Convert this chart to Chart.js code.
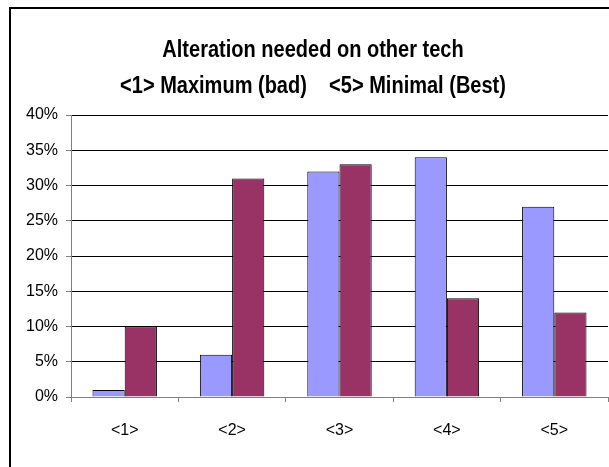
<!DOCTYPE html>
<html>
<head>
<meta charset="utf-8">
<script src="https://cdn.jsdelivr.net/npm/chart.js@4/dist/chart.umd.min.js"></script>
<style>
html,body{margin:0;padding:0;background:#fff;overflow:hidden;}
#wrap{position:absolute;left:0;top:0;width:609px;height:467px;}
</style>
</head>
<body>
<div id="wrap"><canvas id="c" width="609" height="467"></canvas></div>
<script>
const categories = ['<1>', '<2>', '<3>', '<4>', '<5>'];
const seriesA = [1, 6, 32, 34, 27];
const seriesB = [10, 31, 33, 14, 12];
const titleLines = ['Alteration needed on other tech', '<1> Maximum (bad)    <5> Minimal (Best)'];

const frame = {
  id: 'frame',
  beforeDraw(chart) {
    const ctx = chart.ctx;
    ctx.save();
    ctx.fillStyle = '#fff';
    ctx.fillRect(0, 0, chart.width, chart.height);
    ctx.strokeStyle = '#000';
    ctx.lineWidth = 2;
    ctx.beginPath();
    ctx.moveTo(10, chart.height + 5);
    ctx.lineTo(10, 8);
    ctx.lineTo(chart.width + 5, 8);
    ctx.stroke();
    ctx.restore();
  }
};

// Narrow bold title (condensed horizontally to mimic Arial Narrow)
const narrowTitle = {
  id: 'narrowTitle',
  afterDraw(chart) {
    const ctx = chart.ctx;
    const cx = 313;
    const baselines = [57, 93];
    ctx.save();
    ctx.fillStyle = '#000';
    ctx.font = 'bold 23px "Liberation Sans", Arial, sans-serif';
    ctx.textAlign = 'center';
    ctx.textBaseline = 'alphabetic';
    titleLines.forEach((t, i) => {
      ctx.save();
      ctx.translate(cx, baselines[i]);
      ctx.scale(0.87, 1);
      ctx.fillText(t, 0, 0);
      ctx.restore();
    });
    ctx.restore();
  }
};

new Chart(document.getElementById('c'), {
  type: 'bar',
  data: {
    labels: categories,
    datasets: [
      { data: seriesA, backgroundColor: '#9999FF', borderColor: '#000', borderWidth: 1 },
      { data: seriesB, backgroundColor: '#993366', borderColor: '#000', borderWidth: 1 }
    ]
  },
  plugins: [frame, narrowTitle],
  options: {
    responsive: false,
    animation: false,
    devicePixelRatio: 1,
    layout: { padding: { left: 0, right: 1, top: 115, bottom: 0 } },
    datasets: { bar: { categoryPercentage: 0.6, barPercentage: 1.0 } },
    plugins: {
      legend: { display: false },
      tooltip: { enabled: false },
      title: { display: false }
    },
    scales: {
      x: {
        grid: { display: true, drawOnChartArea: false, drawTicks: true, tickLength: 5, color: '#808080', offset: true },
        border: { display: true, color: '#808080', width: 1 },
        ticks: { color: '#000', padding: 19, font: { family: '"Liberation Sans", Arial, sans-serif', size: 16 } },
        afterFit(scale) { scale.height = 70; }
      },
      y: {
        min: 0, max: 40,
        ticks: { stepSize: 5, color: '#000', padding: 8, callback: v => v + '%', font: { family: '"Liberation Sans", Arial, sans-serif', size: 16 } },
        grid: { color: '#000', tickLength: 5, drawTicks: true, tickColor: '#808080' },
        border: { display: true, color: '#808080', width: 1 },
        afterFit(scale) { scale.width = 71; }
      }
    }
  }
});
</script>
</body>
</html>
